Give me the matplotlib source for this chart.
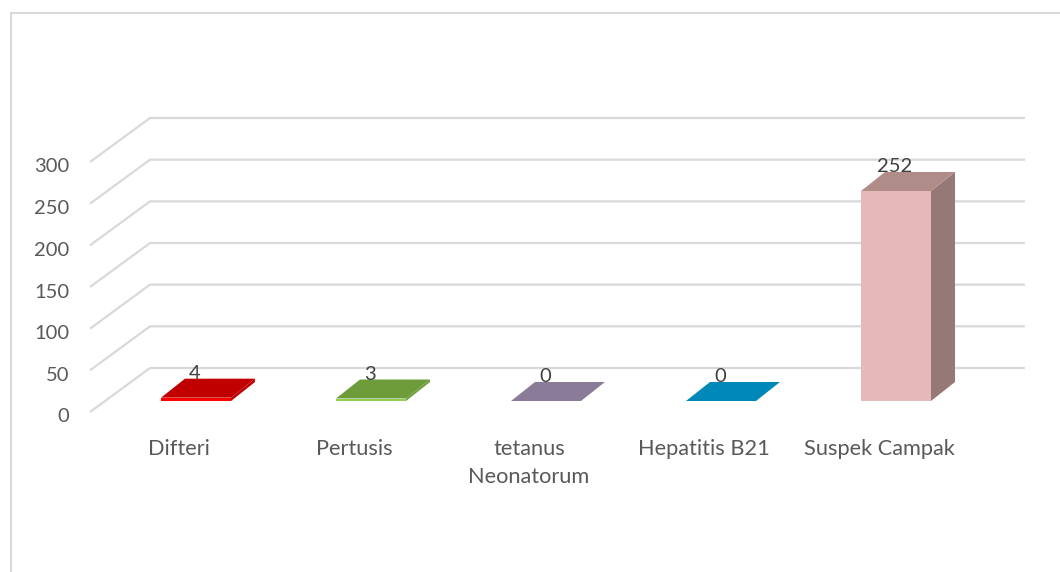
import matplotlib
matplotlib.use('Agg')
import matplotlib.pyplot as plt
from matplotlib.patches import Polygon, Rectangle

categories = ['Difteri', 'Pertusis', 'tetanus\nNeonatorum', 'Hepatitis B21', 'Suspek Campak']
values = [4, 3, 0, 0, 252]
y_ticks = [0, 50, 100, 150, 200, 250, 300]

front_colors = ['#ff0000', '#92d050', '#b2a1c7', '#31a9d8', '#e6b8b7']
top_colors = ['#c00000', '#6f9c3a', '#8a7c99', '#0088b8', '#b08c89']
side_colors = ['#c00000', '#6f9c3a', '#8a7c99', '#0088b8', '#967877']

W, H = 1060, 572
PX_X = 175.0        # pixels per category
PX_Y = 250 / 300.0  # pixels per unit

# oblique floor depth, in data units
floor_dx = 60 / PX_X
floor_dy = 44 / PX_Y
# where the bars stand inside the floor and how deep they are
bar_pos = 0.25
bar_dx = 24 / PX_X
bar_dy = 19 / PX_Y
bar_w = 0.4
x_shift = 0.02

fig = plt.figure(figsize=(W / 100, H / 100), dpi=100)
plt.rcParams['font.family'] = ['Lato', 'DejaVu Sans']
ax = fig.add_axes([0, 0, 1, 1])
ax.set_xlim(-0.5 - 90 / PX_X, -0.5 + (W - 90) / PX_X)
ax.set_ylim(-(H - 412) / PX_Y, 412 / PX_Y)
ax.axis('off')

grid_color = '#d9d9d9'
for t in y_ticks:
    ax.plot([-0.5, -0.5 + floor_dx, 4.5 + floor_dx], [t, t + floor_dy, t + floor_dy],
            color=grid_color, lw=1.6, solid_capstyle='butt', solid_joinstyle='miter', zorder=1)
    ax.text(-0.5 - 21 / PX_X, t - 5 / PX_Y, str(t), ha='right', va='center', fontsize=14.5, color='#595959')

for i, v in enumerate(values):
    x0 = i - bar_w / 2 + x_shift + floor_dx * bar_pos
    x1 = x0 + bar_w
    y0 = floor_dy * bar_pos
    y1 = y0 + v
    # side, top, then front
    ax.add_patch(Polygon([(x1, y0), (x1 + bar_dx, y0 + bar_dy), (x1 + bar_dx, y1 + bar_dy), (x1, y1)],
                         facecolor=side_colors[i], edgecolor='none', zorder=2))
    ax.add_patch(Polygon([(x0, y1), (x1, y1), (x1 + bar_dx, y1 + bar_dy), (x0 + bar_dx, y1 + bar_dy)],
                         facecolor=top_colors[i], edgecolor='none', zorder=3))
    ax.add_patch(Rectangle((x0, y0), bar_w, max(v, 0.6), facecolor=front_colors[i], edgecolor='none', zorder=4))
    ax.text(x0 + bar_w / 2 - 1 / PX_X, y1 + bar_dy + 5 / PX_Y, str(v), ha='center', va='center',
            fontsize=14.5, color='#404040', zorder=5)
    ax.text(x0 + bar_w / 2 - 17 / PX_X, -32, categories[i], ha='center', va='top', fontsize=15.7,
            color='#595959', linespacing=1.5, zorder=5)

# chart frame, runs off the right and bottom of the picture
fig.add_artist(plt.Line2D([10.5 / W, 10.5 / W, 1], [0, 1 - 12.5 / H, 1 - 12.5 / H],
                          color=grid_color, lw=1.5, solid_joinstyle='miter'))

fig.savefig('out.png', dpi=100, facecolor='white')
